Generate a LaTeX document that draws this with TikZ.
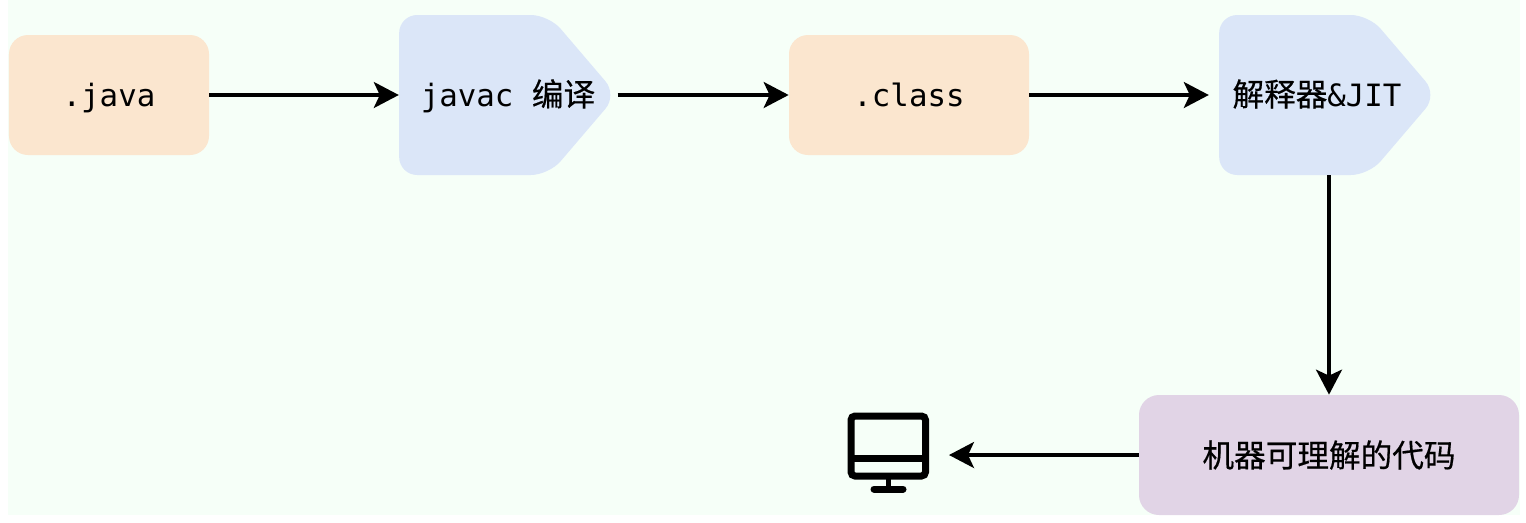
\documentclass[tikz,border=0pt]{standalone}
\usepackage{fontspec}
\setmonofont{DejaVu Sans Mono}
\newfontfamily\cjk[FakeBold=0.5]{Noto Sans CJK SC}
\usetikzlibrary{positioning,arrows.meta,shapes.symbols}
\definecolor{canvas}{HTML}{F6FFF8}
\definecolor{srcfill}{HTML}{FBE6CF}
\definecolor{toolfill}{HTML}{DBE6F8}
\definecolor{codefill}{HTML}{E1D4E6}
\tikzset{
	filebox/.style={fill=srcfill, rounded corners=0.38cm, minimum height=2.4cm, text height=0.6cm, text depth=0.16cm, font=\ttfamily\fontsize{17.5}{20}\selectfont},
	toolbox/.style={shape=signal, signal to=east, signal from=nowhere, signal pointer angle=99, fill=toolfill, rounded corners=0.36cm, minimum width=4.36cm, minimum height=3.2cm, inner sep=0pt},
	tooltext/.style={text height=0.6cm, text depth=0.16cm, font=\ttfamily\fontsize{17.5}{20}\selectfont},
	flow/.style={-{Stealth[length=0.5cm, width=0.52cm, inset=0.12cm]}, line width=0.065cm, black},
}
\begin{document}
\begin{tikzpicture}
	\useasboundingbox (0,0) rectangle (30.52,-10.44);
	\fill[canvas] (0.16,0) rectangle (30.4,-10.3);
	% top row
	\node[filebox, minimum width=4cm] (java) at (2.18,-1.9) {.java};
	\node[toolbox] (javac) at (9.48,-1.9) {};
	\node[tooltext] (javactext) at (10.16,-1.9) {javac {\cjk\fontsize{18}{20}\selectfont 编译}};
	\node[filebox, minimum width=4.8cm] (class) at (18.18,-1.9) {.class};
	\node[toolbox] (jit) at (25.88,-1.9) {};
	\node[tooltext] (jittext) at (26.34,-1.9) {{\cjk\fontsize{18}{20}\selectfont 解释器}\&JIT};
	% bottom row
	\node[fill=codefill, rounded corners=0.4cm, minimum width=7.6cm, minimum height=2.4cm, font=\cjk\fontsize{18}{20}\selectfont] (code) at (26.58,-9.1) {机器可理解的代码};
	\coordinate (screen) at (18.98,-9.1);
	% monitor icon
	\draw[line width=0.14cm, rounded corners=0.08cm] (17.02,-8.32) rectangle (18.51,-9.52);
	\draw[line width=0.14cm] (17.02,-9.16)--(18.51,-9.16);
	\draw[line width=0.1cm] (17.76,-9.52)--(17.76,-9.78);
	\draw[line width=0.14cm, line cap=round] (17.48,-9.78)--(18.06,-9.78);
	% arrows
	\draw[flow] (java)--(javac);
	\draw[flow] (javac)--(class);
	\draw[flow, shorten >=0.2cm] (class)--(jit);
	\draw[flow] (jit.south -| code.north)--(code.north);
	\draw[flow] (code)--(screen);
\end{tikzpicture}
\end{document}
